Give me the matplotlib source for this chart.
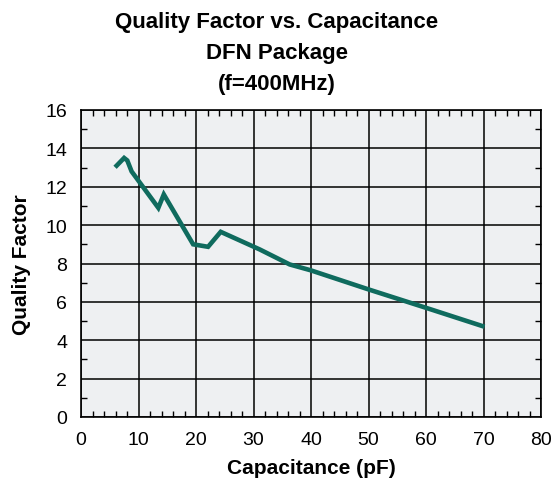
import matplotlib
matplotlib.use("Agg")
import matplotlib.pyplot as plt
from matplotlib.ticker import MultipleLocator

capacitance = [6.2, 7.5, 8.05, 8.8, 13.45, 14.4, 19.5, 22.1, 24.3, 31.1, 36.3, 39.9, 50.0, 59.9, 69.8]
quality = [13.1, 13.5, 13.37, 12.8, 10.9, 11.6, 9.0, 8.87, 9.65, 8.73, 7.95, 7.65, 6.65, 5.7, 4.74]

title = "Quality Factor vs. Capacitance\nDFN Package\n(f=400MHz)"
xlabel = "Capacitance (pF)"
ylabel = "Quality Factor"

plt.rcParams['font.family'] = ['Liberation Sans', 'DejaVu Sans']

fig = plt.figure(figsize=(5.54, 4.81), dpi=100)
ax = fig.add_axes([81/554, 1-418/481, 460/554, 307/481])
ax.set_facecolor('#eef0f2')
ax.plot(capacitance, quality, color='#0f6b5e', lw=3.3, solid_joinstyle='miter')
ax.set_xlim(0, 80)
ax.set_ylim(0, 16)
ax.xaxis.set_major_locator(MultipleLocator(10))
ax.xaxis.set_minor_locator(MultipleLocator(2))
ax.yaxis.set_major_locator(MultipleLocator(2))
ax.yaxis.set_minor_locator(MultipleLocator(1))
ax.grid(True, which='major', color='black', lw=1.1)
ax.tick_params(which='both', direction='in', top=True, right=True, labelsize=14)
ax.tick_params(which='major', length=0, pad=10)
ax.tick_params(which='minor', length=4, width=1)
for s in ax.spines.values():
    s.set_linewidth(1.2)
ax.set_xlabel(xlabel, fontsize=15, fontweight='bold', labelpad=7)
ax.set_ylabel(ylabel, fontsize=15, fontweight='bold', labelpad=10)
fig.text(0.5, 1-12/481, title, ha='center', va='top', fontsize=16, fontweight='bold', linespacing=1.62)
fig.savefig('out.png', dpi=100)
